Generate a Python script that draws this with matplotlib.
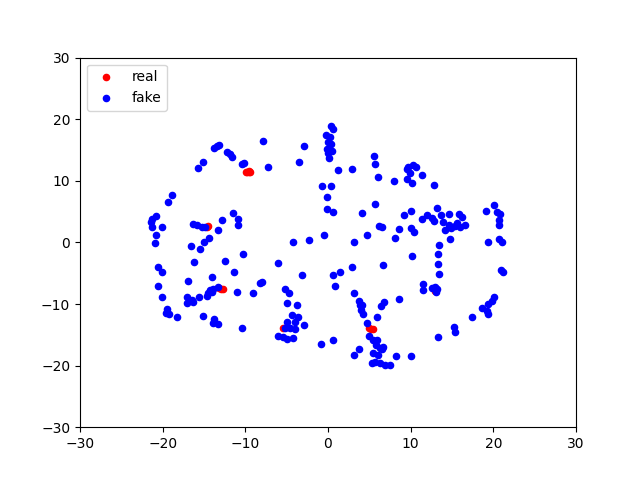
import matplotlib
matplotlib.use("Agg")
import matplotlib.pyplot as plt
import numpy as np

real_x = [-9.9, -9.8, -9.6, -9.5, -9.4, -14.6, -14.5, -13.2, -12.9, -12.7, -5.5, 5.0, 5.2, 5.4, 14.8, 13.0]
real_y = [11.5, 11.4, 11.6, 11.5, 11.4, 2.5, 2.6, -7.4, -7.5, -7.6, -13.9, -13.9, -14.0, -14.1, 2.5, -7.9]

fake_x = [
    -13.43, -13.19, -13.79, -12.22, -11.85, -11.61, -10.40, -10.16, -15.12, -15.73,
    -18.87, -19.35, -21.29, -20.81, -21.41, -21.29, -20.08, -20.81, -20.93, -16.33,
    -15.85, -15.24, -14.88, -12.82, -13.31, -11.49, -10.89, -10.89, -14.39, -15.00,
    -16.57, -15.48, -10.28, -20.56, -20.08, -16.21, -12.46, -11.37, -14.03, -16.93,
    -20.56, -14.27, -14.03, -14.52, -14.64, -13.91, -13.31, -11.01, -9.07, -8.23,
    -20.08, -17.06, -16.45, -17.06, -15.60, -16.33, -19.48, -19.60, -19.23, -18.27,
    -15.12, -13.79, -13.91, -13.31, -10.40,
    -7.86, -2.90, -3.51, -7.26, 0.36, 0.60, -0.24, 0.24, 0.00, 0.36,
    -0.12, 0.48, 0.00, 0.12, 1.21, 2.90, 5.56, 5.69, 6.05, -0.73,
    0.36, -0.12, -0.12, 0.60, 4.11, 5.69, 6.17, -4.23, -2.30, -0.48,
    3.15, 4.72,
    -6.05, 6.65, 2.90, -3.15, 0.60, 1.45, -7.98, 0.85, -5.20, -4.72,
    3.15, -4.96, -3.75, 3.75, 4.11, 6.77, 6.41, 3.99, 4.23, 5.93,
    -4.35, -3.63, -4.96, -3.99, 4.72, -2.90, -5.20, -4.60, -3.99, -6.05,
    -5.44, -4.96, -4.23, 4.96, 5.44, -0.85, 0.60, 5.81, 6.29, 6.65,
    3.75, 3.15, 5.44, 6.05, 5.69, 5.32, 6.29, 6.89, 7.50, 8.23,
    10.04, 5.93, 6.53, 3.87,
    7.98, 9.56, 9.68, 10.28, 10.64, 9.92, 9.56, 10.16, 11.37, 12.82,
    9.19, 10.04, 11.37, 11.98, 12.58, 12.82, 13.19, 13.67, 13.91, 14.64,
    15.85, 16.21, 14.64, 15.36, 15.97, 16.57, 15.60, 14.15, 14.88, 6.53,
    8.59, 10.04, 10.40, 8.10, 14.76, 13.43, 19.11, 20.08, 20.44, 20.81,
    20.68, 20.68, 19.35, 20.68, 21.05,
    13.31, 13.31, 13.43, 10.16, 20.93, 21.17, 11.49, 11.49, 12.58, 12.94,
    13.19, 13.06, 8.59, 20.08, 19.84, 19.35, 18.63, 19.23, 19.35, 17.42,
    15.24, 15.36, 13.31,
]
fake_y = [
    15.69, 15.85, 15.37, 14.72, 14.39, 13.90, 12.76, 12.93, 13.09, 12.11,
    7.72, 6.59, 3.82, 4.31, 3.33, 2.52, 2.52, 1.22, -0.08, 3.01,
    2.85, 2.52, 2.52, 3.66, 2.03, 4.80, 3.82, 2.85, 0.73, 0.08,
    -0.57, -1.06, -1.87, -3.98, -4.80, -3.17, -3.01, -4.80, -5.61, -6.26,
    -7.07, -7.72, -8.05, -8.21, -8.70, -7.56, -7.24, -8.05, -8.21, -6.59,
    -8.86, -8.86, -9.35, -9.84, -8.86, -9.67, -10.81, -11.46, -11.63, -12.11,
    -11.95, -12.44, -13.09, -13.25, -13.90,
    16.50, 15.69, 13.09, 12.28, 18.94, 18.46, 17.48, 17.15, 16.34, 16.02,
    15.20, 14.88, 14.55, 13.74, 11.79, 11.95, 14.07, 12.76, 10.65, 9.19,
    9.19, 7.40, 5.45, 4.96, 4.80, 6.26, 2.68, 0.08, 0.41, 1.22,
    0.08, 1.22,
    -3.33, -3.66, -3.98, -5.28, -5.28, -4.80, -6.42, -7.07, -7.56, -8.21,
    -8.21, -9.84, -10.16, -9.51, -10.16, -9.67, -10.33, -10.98, -11.63, -12.11,
    -11.79, -12.11, -12.93, -12.93, -13.09, -13.41, -13.90, -13.90, -14.07, -15.20,
    -15.37, -15.69, -15.53, -15.20, -15.85, -16.50, -15.85, -16.67, -17.15, -16.99,
    -17.32, -18.29, -17.97, -18.29, -19.43, -19.59, -19.59, -19.92, -19.92, -18.46,
    -18.46, -15.85, -17.30, -10.16,
    10.00, 11.95, 12.28, 12.60, 12.28, 11.30, 10.33, 9.67, 10.98, 9.35,
    4.47, 5.12, 3.82, 4.47, 3.98, 3.50, 5.61, 4.47, 3.33, 4.63,
    4.63, 4.15, 2.85, 2.68, 2.52, 2.85, 3.17, 2.03, 2.36, 2.52,
    2.20, 2.36, 1.71, 0.73, 0.57, -0.41, 5.12, 6.10, 4.96, 4.63,
    3.66, 2.85, 0.08, 0.57, 0.08,
    -1.87, -3.50, -5.12, -2.20, -4.47, -4.80, -6.75, -7.72, -7.40, -7.24,
    -7.56, -8.05, -9.19, -8.86, -9.51, -10.00, -10.65, -11.14, -11.63, -12.11,
    -13.74, -14.55, -15.37,
]

fig, ax = plt.subplots(figsize=(6.4, 4.8), dpi=100)
ax.scatter(real_x, real_y, c='red', s=20, label='real')
ax.scatter(fake_x, fake_y, c='blue', s=20, label='fake')
ax.set_xlim(-30, 30)
ax.set_ylim(-30, 30)
ax.legend(loc='upper left')
fig.savefig('out.png', dpi=100)
